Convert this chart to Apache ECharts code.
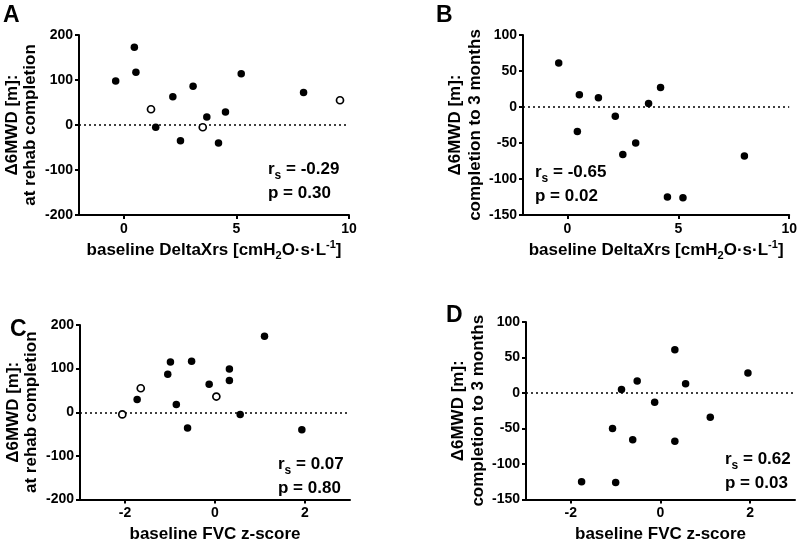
<!DOCTYPE html>
<html>
<head>
<meta charset="utf-8">
<script src="https://cdn.jsdelivr.net/npm/echarts@6/dist/echarts.min.js"></script>
<style>
html,body{margin:0;padding:0;background:#fff;}
#chart{width:800px;height:544px;}
</style>
</head>
<body>
<div id="chart"></div>
<script>
// ---- data ----
var panelAFilled = [[-0.37,98],[0.46,173],[0.53,117],[1.41,-5],[2.17,63],[2.51,-35],[3.07,86],[3.68,18],[4.51,29],[4.2,-40],[5.21,114],[7.98,72]];
var panelAOpen = [[1.2,35],[3.5,-5],[9.6,55]];
var panelBFilled = [[-0.39,61],[0.54,17],[0.45,-34],[1.4,13],[2.16,-13],[2.5,-66],[3.08,-50],[3.66,5],[4.2,27],[4.51,-125],[5.21,-126],[7.98,-68]];
var panelCFilled = [[-1.73,29],[-1.05,87],[-0.99,115],[-0.86,18],[-0.61,-36],[-0.52,117],[-0.13,64],[0.32,99],[0.32,73],[0.56,-5],[1.1,174],[1.93,-40]];
var panelCOpen = [[-2.06,-5],[-1.65,55],[0.03,36]];
var panelDFilled = [[-1.76,-125],[-1.07,-50],[-1.0,-126],[-0.87,5],[-0.52,17],[-0.62,-66],[-0.13,-13],[0.32,61],[0.32,-68],[0.56,13],[1.11,-34],[1.95,28]];

var xTicksXrs = [0, 5, 10];
var xTicksFvc = [-2, 0, 2];
var yLabelA = ['Δ6MWD [m]:', 'at rehab completion'];
var yLabelB = ['Δ6MWD [m]:', 'completion to 3 months'];
var statsA = ['-0.29', '0.30'];
var statsB = ['-0.65', '0.02'];
var statsC = ['0.07', '0.80'];
var statsD = ['0.62', '0.03'];
var panelLetters = ['A', 'B', 'C', 'D'];

// ---- styling ----
var FONT = '"Liberation Sans", Arial, sans-serif';
var grids = [
  {left: 79, top: 35, width: 270, height: 180},
  {left: 523, top: 35, width: 270, height: 180},
  {left: 80, top: 325, width: 270, height: 179},
  {left: 526, top: 322, width: 269, height: 180}
];
var xNameRich = {
  n: {fontSize: 17, fontWeight: 'bold', fontFamily: FONT, color: '#000', lineHeight: 22},
  sub: {fontSize: 11, fontWeight: 'bold', fontFamily: FONT, color: '#000', lineHeight: 11, verticalAlign: 'bottom'},
  sup: {fontSize: 11, fontWeight: 'bold', fontFamily: FONT, color: '#000', lineHeight: 11, verticalAlign: 'top'}
};
var xrsName = '{n|baseline DeltaXrs [cmH}{sub|2}{n|O·s·L}{sup|-1}{n|]}';
var fvcName = '{n|baseline FVC z-score}';

function xAxis(idx, min, max, ticks, name) {
  return {
    gridIndex: idx, type: 'value', min: min, max: max,
    splitLine: {show: false},
    axisLine: {onZero: false, lineStyle: {color: '#000', width: 2}},
    axisTick: {show: true, length: 4, lineStyle: {color: '#000', width: 2}, customValues: ticks},
    axisLabel: {customValues: ticks, color: '#000', fontSize: 14, fontWeight: 'bold', fontFamily: FONT, margin: 7},
    name: name, nameLocation: 'middle', nameGap: 24,
    nameTextStyle: {rich: xNameRich}
  };
}
function yAxis(idx, min, max, interval, lines, gap, lh) {
  return {
    gridIndex: idx, type: 'value', min: min, max: max, interval: interval,
    splitLine: {show: false},
    axisLine: {show: true, onZero: false, lineStyle: {color: '#000', width: 2}},
    axisTick: {show: true, length: 4, lineStyle: {color: '#000', width: 2}},
    axisLabel: {color: '#000', fontSize: 14, fontWeight: 'bold', fontFamily: FONT, margin: 6},
    name: lines.join('\n'), nameLocation: 'middle', nameGap: gap,
    nameTextStyle: {color: '#000', fontSize: 17, fontWeight: 'bold', fontFamily: FONT, lineHeight: lh}
  };
}
function zeroLine() {
  return {
    silent: true, symbol: ['none', 'none'], label: {show: false},
    lineStyle: {type: [2, 3], color: '#000', width: 1.5, opacity: 1},
    data: [{yAxis: 0}]
  };
}
function filled(idx, data, withLine) {
  var s = {
    type: 'scatter', xAxisIndex: idx, yAxisIndex: idx, data: data,
    symbol: 'circle', symbolSize: 7.5, itemStyle: {color: '#000', opacity: 1}, z: 5
  };
  if (withLine) s.markLine = zeroLine();
  return s;
}
function open(idx, data) {
  return {
    type: 'scatter', xAxisIndex: idx, yAxisIndex: idx, data: data,
    symbol: 'circle', symbolSize: 7, itemStyle: {color: '#fff', borderColor: '#000', borderWidth: 1.7, opacity: 1}, z: 6
  };
}
var statRich = {
  n: {fontSize: 17, fontWeight: 'bold', fontFamily: FONT, color: '#000', lineHeight: 24},
  s: {fontSize: 12, fontWeight: 'bold', fontFamily: FONT, color: '#000', lineHeight: 13, verticalAlign: 'bottom'}
};
function stat(x, y, vals) {
  return {
    type: 'text', left: x, top: y, z: 10,
    style: {text: '{n|r}{s|s}{n| = ' + vals[0] + '}\n{n|p = ' + vals[1] + '}', rich: statRich}
  };
}
function letter(x, y, t) {
  return {type: 'text', left: x, top: y, z: 10,
    style: {text: t, fill: '#000', font: 'bold 23px ' + FONT}};
}

var option = {
  animation: false,
  backgroundColor: '#fff',
  grid: grids,
  xAxis: [
    xAxis(0, -2, 10, xTicksXrs, xrsName),
    xAxis(1, -2, 10, xTicksXrs, xrsName),
    xAxis(2, -3, 3, xTicksFvc, fvcName),
    xAxis(3, -3, 3, xTicksFvc, fvcName)
  ],
  yAxis: [
    yAxis(0, -200, 200, 100, yLabelA, 40, 18),
    yAxis(1, -150, 100, 50, yLabelB, 35, 20),
    yAxis(2, -200, 200, 100, yLabelA, 40, 18),
    yAxis(3, -150, 100, 50, yLabelB, 35, 20)
  ],
  series: [
    filled(0, panelAFilled, true), open(0, panelAOpen),
    filled(1, panelBFilled, true),
    filled(2, panelCFilled, true), open(2, panelCOpen),
    filled(3, panelDFilled, true)
  ],
  graphic: [
    letter(3, 4, panelLetters[0]),
    letter(436, 4, panelLetters[1]),
    letter(10, 318, panelLetters[2]),
    letter(446, 304, panelLetters[3]),
    stat(268, 161, statsA),
    stat(535, 164, statsB),
    stat(278, 456, statsC),
    stat(725, 451, statsD)
  ]
};
var chart = echarts.init(document.getElementById('chart'));
chart.setOption(option);
</script>
</body>
</html>
